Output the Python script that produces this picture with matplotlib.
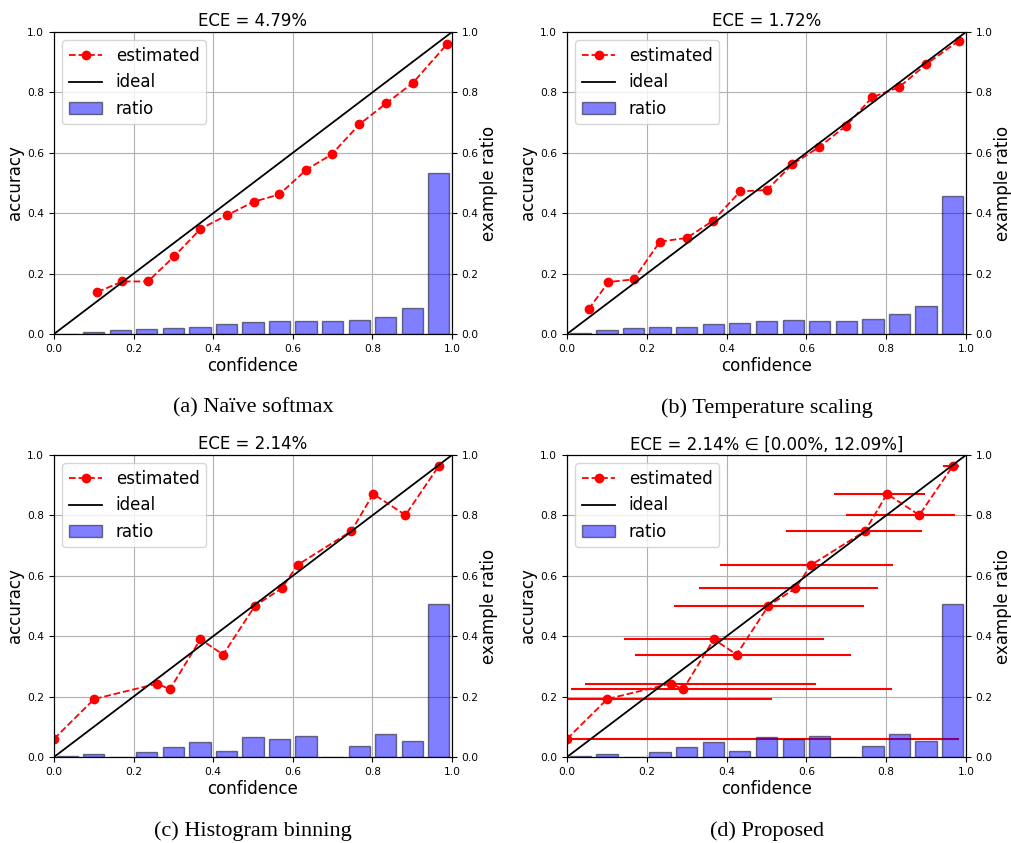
import numpy as np
import matplotlib.pyplot as plt

# centros de los 15 bins del histograma
centros_bins = [0.033, 0.100, 0.167, 0.233, 0.300, 0.367, 0.433, 0.500,
                0.567, 0.633, 0.700, 0.767, 0.833, 0.900, 0.967]
ancho_bin = 1.0 / 15

# (a) softmax
conf_a = [0.109, 0.172, 0.236, 0.302, 0.368, 0.434, 0.502, 0.566, 0.634,
          0.698, 0.767, 0.835, 0.902, 0.987]
acc_a = [0.139, 0.174, 0.174, 0.257, 0.348, 0.393, 0.438, 0.462, 0.544,
         0.595, 0.694, 0.764, 0.832, 0.959]
ratio_a = [0.0, 0.005, 0.012, 0.018, 0.021, 0.024, 0.032, 0.040, 0.044,
           0.044, 0.042, 0.047, 0.056, 0.085, 0.534]

# (b) temperature scaling
conf_b = [0.054, 0.104, 0.167, 0.233, 0.300, 0.366, 0.434, 0.501, 0.565,
          0.632, 0.700, 0.765, 0.832, 0.901, 0.982]
acc_b = [0.082, 0.172, 0.181, 0.306, 0.318, 0.375, 0.472, 0.477, 0.562,
         0.619, 0.690, 0.784, 0.817, 0.894, 0.971]
ratio_b = [0.003, 0.012, 0.019, 0.024, 0.024, 0.034, 0.038, 0.044, 0.046,
           0.044, 0.044, 0.051, 0.065, 0.094, 0.456]

# (c) y (d) histogram binning / proposed
conf_c = [0.0, 0.101, 0.260, 0.291, 0.368, 0.425, 0.505, 0.572, 0.612,
          0.747, 0.802, 0.883, 0.967]
acc_c = [0.060, 0.192, 0.243, 0.224, 0.390, 0.339, 0.501, 0.558, 0.636,
         0.748, 0.871, 0.801, 0.964]
ratio_c = [0.002, 0.009, 0.0, 0.015, 0.033, 0.049, 0.019, 0.066, 0.061,
           0.070, 0.0, 0.038, 0.077, 0.054, 0.506]

# intervalos de confianza del metodo propuesto
conf_inf_d = [0.0, 0.0, 0.044, 0.011, 0.144, 0.170, 0.268, 0.330, 0.383,
              0.550, 0.669, 0.699, 0.942]
conf_sup_d = [0.983, 0.513, 0.624, 0.815, 0.644, 0.712, 0.745, 0.780, 0.817,
              0.889, 0.897, 0.972, 0.982]

titulos = ["ECE = 4.79%", "ECE = 1.72%", "ECE = 2.14%",
           "ECE = 2.14% \u2208 [0.00%, 12.09%]"]
pies = ["(a) Na\u00efve softmax", "(b) Temperature scaling",
        "(c) Histogram binning", "(d) Proposed"]

W, H = 1011, 843


def pinta_panel(fig, caja, conf, acc, ratio, titulo, pie, inf=None, sup=None):
    x0, y0, x1, y1 = caja
    ax = fig.add_axes([x0 / W, 1 - y1 / H, (x1 - x0) / W, (y1 - y0) / H])

    if inf is not None:
        err = [np.array(conf) - np.array(inf), np.array(sup) - np.array(conf)]
        ax.errorbar(conf, acc, xerr=err, fmt='none', ecolor='r', elinewidth=1.5)

    l1, = ax.plot(conf, acc, 'r--o', markersize=6, linewidth=1.3, label='estimated')
    l2, = ax.plot([0, 1], [0, 1], 'k-', linewidth=1.3, label='ideal')
    ax.set_xlim(0, 1)
    ax.set_ylim(0, 1)
    ax.grid(True)
    ax.set_xlabel('confidence', fontsize=12, labelpad=2)
    ax.set_ylabel('accuracy', fontsize=12, labelpad=2)
    ax.set_title(titulo, fontsize=12, pad=4)
    ax.tick_params(labelsize=7.7)

    ax2 = ax.twinx()
    b = ax2.bar(centros_bins, ratio, width=0.8 * ancho_bin, color='b', alpha=0.5,
                edgecolor='k', linewidth=1, label='ratio')
    ax2.set_ylim(0, 1)
    ax2.set_ylabel('example ratio', fontsize=12, labelpad=1)
    ax2.tick_params(labelsize=7.7)
    ax2.legend(handles=[l1, l2, b], loc='upper left', fontsize=12)

    fig.text((x0 + x1) / 2 / W, 1 - (y1 + 74) / H, pie, ha='center', va='center',
             fontsize=16, family='Liberation Serif')


def main():
    fig = plt.figure(figsize=(W / 100, H / 100), dpi=100)

    pinta_panel(fig, (54, 32, 452, 334), conf_a, acc_a, ratio_a, titulos[0], pies[0])
    pinta_panel(fig, (567, 32, 966, 334), conf_b, acc_b, ratio_b, titulos[1], pies[1])
    pinta_panel(fig, (54, 455, 452, 757), conf_c, acc_c, ratio_c, titulos[2], pies[2])
    pinta_panel(fig, (567, 455, 966, 757), conf_c, acc_c, ratio_c, titulos[3], pies[3],
                conf_inf_d, conf_sup_d)

    fig.savefig('out.png', dpi=100)


if __name__ == "__main__":
    main()
